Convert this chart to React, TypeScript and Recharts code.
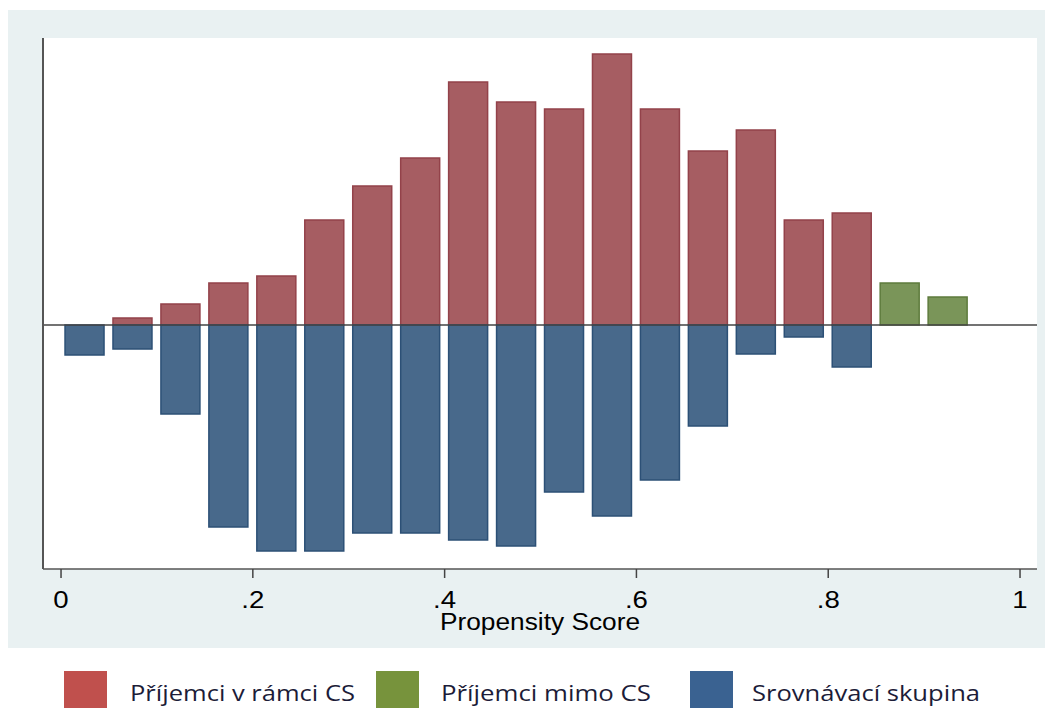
import React from 'react';
import { ComposedChart, Bar, XAxis, YAxis, ReferenceLine } from 'recharts';

// bin centres of the propensity score histogram (bin width 0.05)
const binCenters = [0.025, 0.075, 0.125, 0.175, 0.225, 0.275, 0.325, 0.375, 0.425, 0.475, 0.525, 0.575, 0.625, 0.675, 0.725, 0.775, 0.825, 0.875, 0.925];
// Příjemci v rámci CS (upward)
const prijemciCS = [0, 7, 21, 42, 49, 105, 139, 167, 243, 223, 216, 271, 216, 174, 195, 105, 112, 0, 0];
// Příjemci mimo CS (upward)
const prijemciMimo = [0, 0, 0, 0, 0, 0, 0, 0, 0, 0, 0, 0, 0, 0, 0, 0, 0, 42, 28];
// Srovnávací skupina (downward, mirrored)
const srovnavaci = [-30, -24, -89, -202, -226, -226, -208, -208, -215, -221, -167, -191, -155, -101, -29, -12, -42, 0, 0];
const xTicks = [0, 0.2, 0.4, 0.6, 0.8, 1];
const legendItems = ['Příjemci v rámci CS', 'Příjemci mimo CS', 'Srovnávací skupina'];

const data = binCenters.map((x, i) => ({ x, cs: prijemciCS[i], mimo: prijemciMimo[i], srov: srovnavaci[i] }));

const fmt = (v: number) => (v === 0 ? '0' : v === 1 ? '1' : String(v).replace(/^0/, ''));

const Tick = (props: any) => {
  const { x, y, payload } = props;
  return (
    <text
      transform={`translate(${x},${y + 16}) scale(1.2,1)`}
      textAnchor="middle"
      fontSize={23}
      fill="#000"
      fontFamily="Liberation Sans, Arial, sans-serif"
    >
      {fmt(payload.value)}
    </text>
  );
};

export default function App() {
  const legendColors = ['#c0504d', '#77933c', '#3a6291'];
  const legendBoxX = [64, 376, 690];
  const legendTextX = [130, 441, 752];
  const legendTextW = [225, 210, 228];
  return (
    <div style={{ position: 'relative', width: 1053, height: 708, marginLeft: -8, marginTop: -8, overflow: 'hidden', background: '#fff' }}>
      <div style={{ position: 'absolute', left: 8, top: 10, width: 1045, height: 638, background: '#e9f1f2' }} />
      <div style={{ position: 'absolute', left: 43, top: 38, width: 994, height: 531, background: '#ffffff' }} />
      <div style={{ position: 'absolute', left: 0, top: 0 }}>
        <ComposedChart
          width={1053}
          height={708}
          data={data}
          stackOffset="sign"
          margin={{ top: 38, right: 16, left: 42, bottom: 99 }}
        >
          <XAxis
            dataKey="x"
            type="number"
            domain={[-0.0188, 1.0177]}
            allowDataOverflow
            ticks={xTicks}
            height={40}
            tickSize={9}
            tickMargin={14}
            axisLine={{ stroke: '#555', strokeWidth: 1.5 }}
            tickLine={{ stroke: '#444', strokeWidth: 1.5 }}
            tick={<Tick />}
          />
          <YAxis
            type="number"
            domain={[-244, 287]}
            allowDataOverflow
            width={1}
            tick={false}
            tickLine={false}
            axisLine={{ stroke: '#555', strokeWidth: 2 }}
          />
          <Bar dataKey="cs" stackId="a" barSize={39} fill="#a65d62" stroke="#93424a" strokeWidth={1.5} isAnimationActive={false} />
          <Bar dataKey="mimo" stackId="a" barSize={39} fill="#7a9559" stroke="#5e7b3d" strokeWidth={1.5} isAnimationActive={false} />
          <Bar dataKey="srov" stackId="a" barSize={39} fill="#48698b" stroke="#2c5076" strokeWidth={1.5} isAnimationActive={false} />
          <ReferenceLine y={0} stroke="#444" strokeWidth={1.5} />
        </ComposedChart>
      </div>
      <svg style={{ position: 'absolute', left: 0, top: 0 }} width={1053} height={708}>
        <text x={540} y={630} textAnchor="middle" fontSize={23} fill="#000" fontFamily="Liberation Sans, Arial, sans-serif" textLength={200} lengthAdjust="spacingAndGlyphs">
          Propensity Score
        </text>
        {legendItems.map((label, i) => (
          <g key={label}>
            <rect x={legendBoxX[i]} y={671} width={43} height={43} fill={legendColors[i]} />
            <text
              x={legendTextX[i]}
              y={701}
              fontSize={22}
              fill="#1c1c38"
              fontFamily="Open Sans, sans-serif"
              textLength={legendTextW[i]}
              lengthAdjust="spacingAndGlyphs"
            >
              {label}
            </text>
          </g>
        ))}
      </svg>
    </div>
  );
}
